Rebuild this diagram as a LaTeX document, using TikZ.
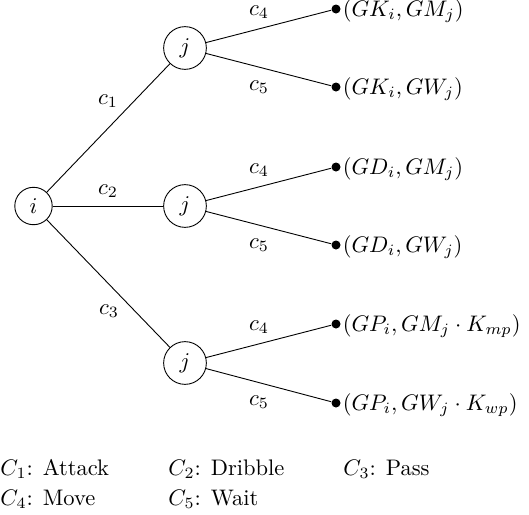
\documentclass[tikz,border=0pt]{standalone}
\begin{document}
\begin{tikzpicture}[x=0.4444pt,y=-0.4444pt,
  state/.style={circle,draw,line width=0.4pt},
  leaf/.style={circle,fill,inner sep=0pt,minimum size=4pt},
  leaftext/.style={inner sep=0.6pt,yshift=-0.8pt},
  elabel/.style={inner sep=0pt},
  legend/.style={anchor=base west,inner sep=0pt}]
\useasboundingbox (0,0) rectangle (529,515);
% decision nodes
\node[state] (i)  at (33.5,206) {$i$};
\node[state] (j1) at (185,48)  {$j$};
\node[state] (j2) at (185,206) {$j$};
\node[state] (j3) at (185,363) {$j$};
% leaves
\node[leaf,label={[leaftext]right:$(GK_i, GM_j)$}] (l1) at (336,9)   {};
\node[leaf,label={[leaftext]right:$(GK_i, GW_j)$}] (l2) at (336,87)  {};
\node[leaf,label={[leaftext]right:$(GD_i, GM_j)$}] (l3) at (336,167) {};
\node[leaf,label={[leaftext]right:$(GD_i, GW_j)$}] (l4) at (336,245) {};
\node[leaf,label={[leaftext]right:$(GP_i, GM_j \cdot K_{mp})$}] (l5) at (336,324) {};
\node[leaf,label={[leaftext]right:$(GP_i, GW_j \cdot K_{wp})$}] (l6) at (336,403) {};
% connectors
\draw (i) -- (j1);
\draw (i) -- (j2);
\draw (i) -- (j3);
\draw (j1) -- (l1);
\draw (j1) -- (l2);
\draw (j2) -- (l3);
\draw (j2) -- (l4);
\draw (j3) -- (l5);
\draw (j3) -- (l6);
% edge labels
\node[elabel] (e1) at (108,101) {$c_1$};
\node[elabel] (e2) at (108,191) {$c_2$};
\node[elabel] (e3) at (109,311) {$c_3$};
\node[elabel] (e4) at (259,12)  {$c_4$};
\node[elabel] (e5) at (259,87)  {$c_5$};
\node[elabel] (e6) at (259,170) {$c_4$};
\node[elabel] (e7) at (259,245) {$c_5$};
\node[elabel] (e8) at (259,327) {$c_4$};
\node[elabel] (e9) at (259,402) {$c_5$};
% legend
\node[legend] (k1) at (0,475)   {$C_1$: Attack};
\node[legend] (k2) at (168,475) {$C_2$: Dribble};
\node[legend] (k3) at (343,475) {$C_3$: Pass};
\node[legend] (k4) at (0,505)   {$C_4$: Move};
\node[legend] (k5) at (168,505) {$C_5$: Wait};
\end{tikzpicture}
\end{document}
